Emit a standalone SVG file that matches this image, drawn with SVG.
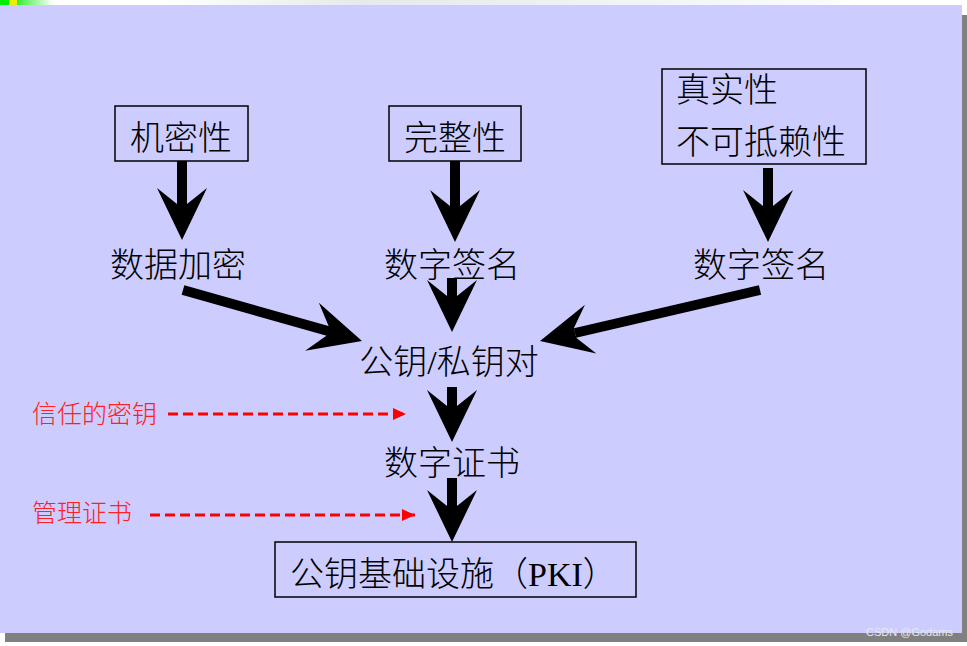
<svg xmlns="http://www.w3.org/2000/svg" xmlns:xlink="http://www.w3.org/1999/xlink" width="967" height="646" viewBox="0 0 967 646">
  <style>
    .t { font-family: "Liberation Serif", "Noto Sans CJK SC", serif; font-size: 34px; font-weight: 300; fill: #000; }
    .r { font-family: "Noto Sans CJK SC", sans-serif; font-size: 25px; font-weight: 300; fill: #ff2020; }
    .box { fill: none; stroke: #000; stroke-width: 1.5; }
    .shaft { stroke: #000; stroke-width: 10; fill: none; }
    .dash { stroke: #ff0000; stroke-width: 3; stroke-dasharray: 10 5; fill: none; }
    .wm { font-family: "Liberation Sans", Arial, sans-serif; font-size: 11px; fill: #e8e8f0; }
  </style>
  <defs>
    <linearGradient id="gfade" x1="0" x2="1" y1="0" y2="0">
      <stop offset="0" stop-color="#33ee33"/>
      <stop offset="1" stop-color="#ffffff"/>
    </linearGradient>
    <linearGradient id="gtop" x1="0" x2="1" y1="0" y2="0">
      <stop offset="0" stop-color="#ffffff"/>
      <stop offset="0.3" stop-color="#e6eaec"/>
      <stop offset="1" stop-color="#fbfbff"/>
    </linearGradient>
    <path id="head" d="M0,0 L-52,-25 L-36,-5 L-36,5 L-52,25 Z" fill="#000"/>
    <marker id="rhead" markerUnits="userSpaceOnUse" markerWidth="14" markerHeight="12" refX="13" refY="6" orient="auto">
      <path d="M0,0 L13,6 L0,12 Z" fill="#ff0000"/>
    </marker>
  </defs>

  <!-- page background -->
  <rect x="0" y="0" width="967" height="646" fill="#ffffff"/>
  <rect x="160" y="0" width="680" height="5" fill="url(#gtop)"/>
  <rect x="0" y="0" width="9" height="5" fill="#00ee00"/>
  <rect x="9" y="0" width="8" height="5" fill="#eeee00"/>
  <rect x="17" y="0" width="36" height="5" fill="url(#gfade)"/>
  <!-- shadow -->
  <rect x="5" y="15" width="962" height="627" fill="#808080"/>
  <!-- slide panel -->
  <rect x="0" y="5" width="962" height="628" fill="#ccccff"/>

  <g id="connectors">
    <line class="shaft" x1="182" y1="161" x2="182" y2="206"/>
    <use xlink:href="#head" transform="translate(182,240) rotate(90)"/>
    <line class="shaft" x1="455" y1="161" x2="455" y2="208"/>
    <use xlink:href="#head" transform="translate(455,242) rotate(90)"/>
    <line class="shaft" x1="768" y1="168" x2="768" y2="208"/>
    <use xlink:href="#head" transform="translate(768,242) rotate(90)"/>
    <line class="shaft" x1="452" y1="278" x2="452" y2="298"/>
    <use xlink:href="#head" transform="translate(452,332) rotate(90)"/>
    <line class="shaft" x1="183" y1="290" x2="328" y2="331"/>
    <use xlink:href="#head" transform="translate(362,341) rotate(15.9)"/>
    <line class="shaft" x1="760" y1="290" x2="575" y2="333"/>
    <use xlink:href="#head" transform="translate(540,341) rotate(166.9)"/>
    <line class="shaft" x1="452" y1="387" x2="452" y2="408"/>
    <use xlink:href="#head" transform="translate(452,442) rotate(90)"/>
    <line class="shaft" x1="452" y1="478" x2="452" y2="508"/>
    <use xlink:href="#head" transform="translate(452,542) rotate(90)"/>
    <line class="dash" x1="168" y1="414" x2="406" y2="414" marker-end="url(#rhead)"/>
    <line class="dash" x1="150" y1="515" x2="415" y2="515" marker-end="url(#rhead)"/>
  </g>

  <g id="n-confidentiality">
    <rect class="box" x="115" y="106" width="133" height="55"/>
    <text class="t" x="181" y="150" text-anchor="middle">机密性</text>
  </g>
  <g id="n-integrity">
    <rect class="box" x="389" y="106" width="132" height="55"/>
    <text class="t" x="455" y="150" text-anchor="middle">完整性</text>
  </g>
  <g id="n-authenticity">
    <rect class="box" x="662" y="69" width="204" height="95"/>
    <text class="t" x="676" y="102">真实性</text>
    <text class="t" x="676" y="154">不可抵赖性</text>
  </g>
  <g id="n-encryption">
    <text class="t" x="178" y="277" text-anchor="middle">数据加密</text>
  </g>
  <g id="n-signature1">
    <text class="t" x="452" y="277" text-anchor="middle">数字签名</text>
  </g>
  <g id="n-signature2">
    <text class="t" x="761" y="277" text-anchor="middle">数字签名</text>
  </g>
  <g id="n-keypair">
    <text class="t" x="449" y="374" text-anchor="middle">公钥/私钥对</text>
  </g>
  <g id="n-certificate">
    <text class="t" x="452" y="475" text-anchor="middle">数字证书</text>
  </g>
  <g id="n-pki">
    <rect class="box" x="275" y="542" width="361" height="55"/>
    <text class="t" x="290" y="586">公钥基础设施（PKI）</text>
  </g>
  <g id="n-trustedkey">
    <text class="r" x="32" y="423">信任的密钥</text>
  </g>
  <g id="n-managecert">
    <text class="r" x="32" y="522">管理证书</text>
  </g>

  <text class="wm" x="866" y="636">CSDN @Godams</text>
</svg>
